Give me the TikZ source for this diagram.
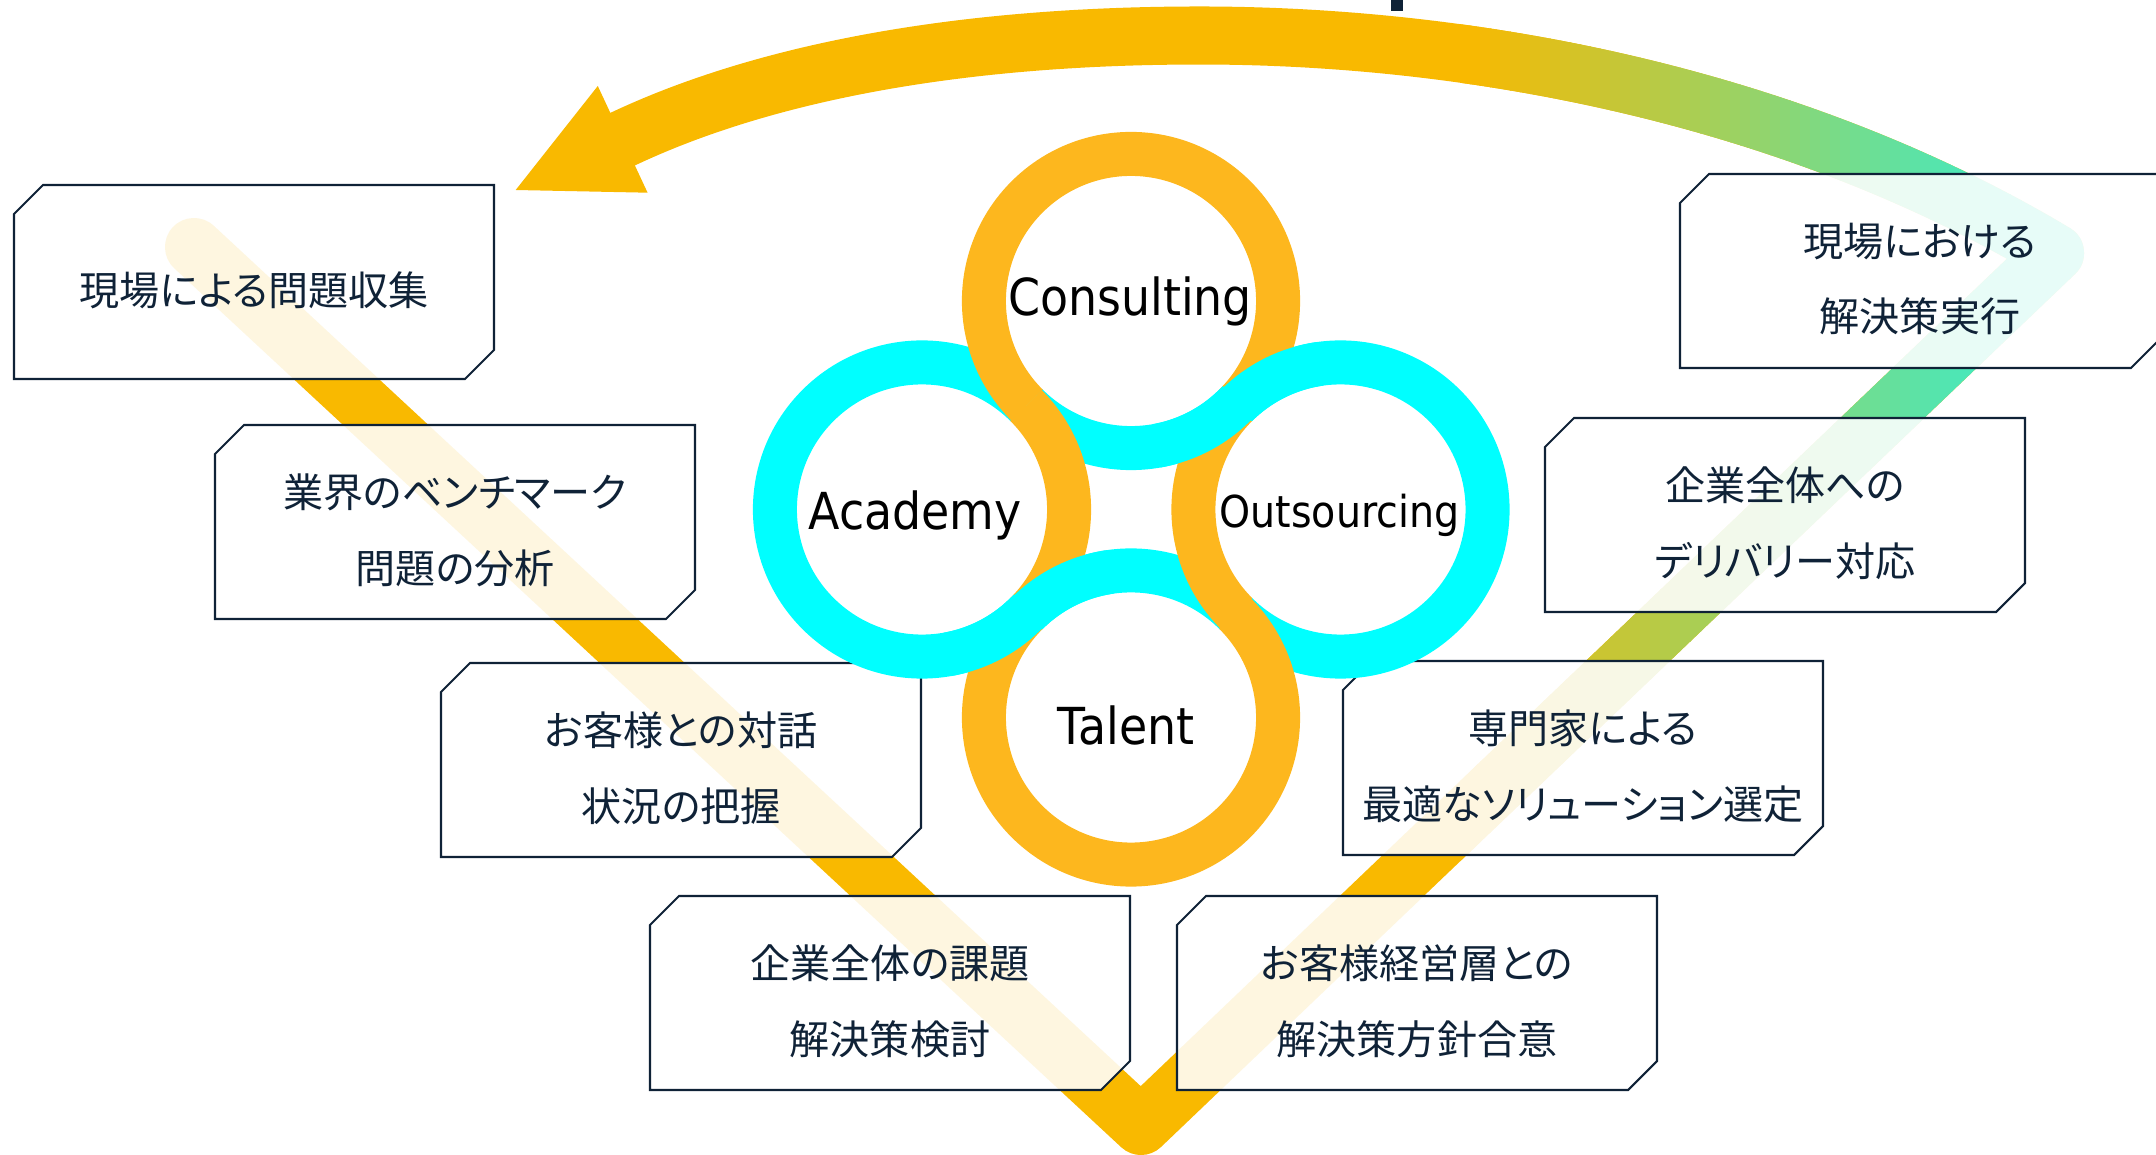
\documentclass[tikz,border=0pt]{standalone}
\usepackage{fontspec}
\newfontfamily\jpfont[RawFeature=+palt]{Noto Sans CJK JP}
\newfontfamily\lblfont[FakeStretch=0.9]{DejaVu Sans}
\definecolor{bandorange}{HTML}{F9B900}
\definecolor{bandteal}{HTML}{3CEBC8}
\definecolor{ringorange}{HTML}{FDB71E}
\definecolor{ringcyan}{HTML}{00FFFF}
\definecolor{navy}{HTML}{0F2237}
\newcommand\loopband{(st) -- (vx) -- (cr) .. controls (1798,-99) and (1480,-35.5) .. (tp) .. controls (950,-35.5) and (758.6,-75) .. (hd)}
\begin{document}
\begin{tikzpicture}[x=0.01cm,y=0.01cm,
    band/.style={line width=0.58cm,line join=round,line cap=round},
    ring/.style={line width=0.44cm},
    ringlabel/.style={font=\lblfont\fontsize{14.5pt}{16pt}\selectfont,text height=0.73em,text depth=0pt,inner sep=0pt},
    chambox/.pic={
      \filldraw[draw=navy,line width=0.6pt,fill=white,fill opacity=0.88]
        (-240,68) -- (-211,97) -- (240,97) -- (240,-68) -- (211,-97) -- (-240,-97) -- cycle;
    },
    jtext/.style={text=navy,align=center,inner sep=0pt,font=\jpfont\fontsize{11.4pt}{21.6pt}\selectfont}]

    \useasboundingbox (0,0) rectangle (2156,-1155);

    \coordinate (st) at (194,-247);
    \coordinate (vx) at (1141,-1126);
    \coordinate (cr) at (2055,-253);
    \coordinate (tp) at (1200,-35.5);
    \coordinate (hd) at (623,-139);

    \draw[band,bandorange] \loopband;
    \foreach \i in {0,...,63}{
        \pgfmathsetmacro\xa{1460+10*\i}
        \pgfmathsetmacro\pct{max(0,min(100,(\xa+5-1470)/5.4))}
        \begin{scope}
            \clip (\xa,50) rectangle (\xa+11,-1200);
            \draw[band,color=bandteal!\pct!bandorange] \loopband;
        \end{scope}
    }
    \fill[bandorange] (515.7,-190) -- (597.8,-86) -- (647.6,-192.7) -- cycle;

    \foreach \n/\x/\y in {1/254/-282, 2/455/-522, 3/681/-760, 4/890/-993,
                          5/1417/-993, 6/1583/-758, 7/1785/-515, 8/1920/-271}{
        \pic at (\x,\y) {chambox};
        \coordinate (b\n) at (\x,\y);
    }
    \node[jtext] (t1) at ([yshift=-0.08cm]b1) {現場による問題収集};
    \node[jtext] (t2) at ([yshift=-0.08cm]b2) {業界のベンチマーク\\問題の分析};
    \node[jtext] (t3) at ([yshift=-0.08cm]b3) {お客様との対話\\状況の把握};
    \node[jtext] (t4) at ([yshift=-0.08cm]b4) {企業全体の課題\\解決策検討};
    \node[jtext] (t5) at ([yshift=-0.08cm]b5) {お客様経営層との\\解決策方針合意};
    \node[jtext] (t6) at ([yshift=-0.08cm]b6) {専門家による\\最適なソリューション選定};
    \node[jtext] (t7) at ([yshift=-0.08cm]b7) {企業全体への\\デリバリー対応};
    \node[jtext] (t8) at ([yshift=-0.08cm]b8) {現場における\\解決策実行};

    \coordinate (C) at (1131,-301);
    \coordinate (A) at (922,-509.5);
    \coordinate (O) at (1340.5,-509.5);
    \coordinate (T) at (1131,-717.5);
    \foreach \c/\a/\b in {C/225/315, A/45/315, O/-135/135, T/45/135}
        \draw[ring,ringcyan] (\c) ++(\a:1.47cm) arc[start angle=\a,end angle=\b,radius=1.47cm];
    \foreach \c/\a/\b in {C/-45/225, A/-45/45, O/135/225, T/135/405}
        \draw[ring,ringorange] (\c) ++(\a:1.47cm) arc[start angle=\a,end angle=\b,radius=1.47cm];
    \foreach \c/\a/\b in {C/280/317, O/98/135, A/280/317, T/98/135}
        \draw[ring,ringcyan] (\c) ++(\a:1.47cm) arc[start angle=\a,end angle=\b,radius=1.47cm];

    \node[ringlabel] (consulting) at (1130,-303) {Consulting};
    \node[ringlabel] (academy) at (915,-517) {Academy};
    \node[ringlabel,font=\lblfont\fontsize{12.5pt}{14pt}\selectfont] (outsourcing) at (1339.5,-515) {Outsourcing};
    \node[ringlabel] (talent) at (1126,-732) {Talent};

    \fill[navy] (1391,0) rectangle (1403,-11);
\end{tikzpicture}
\end{document}
